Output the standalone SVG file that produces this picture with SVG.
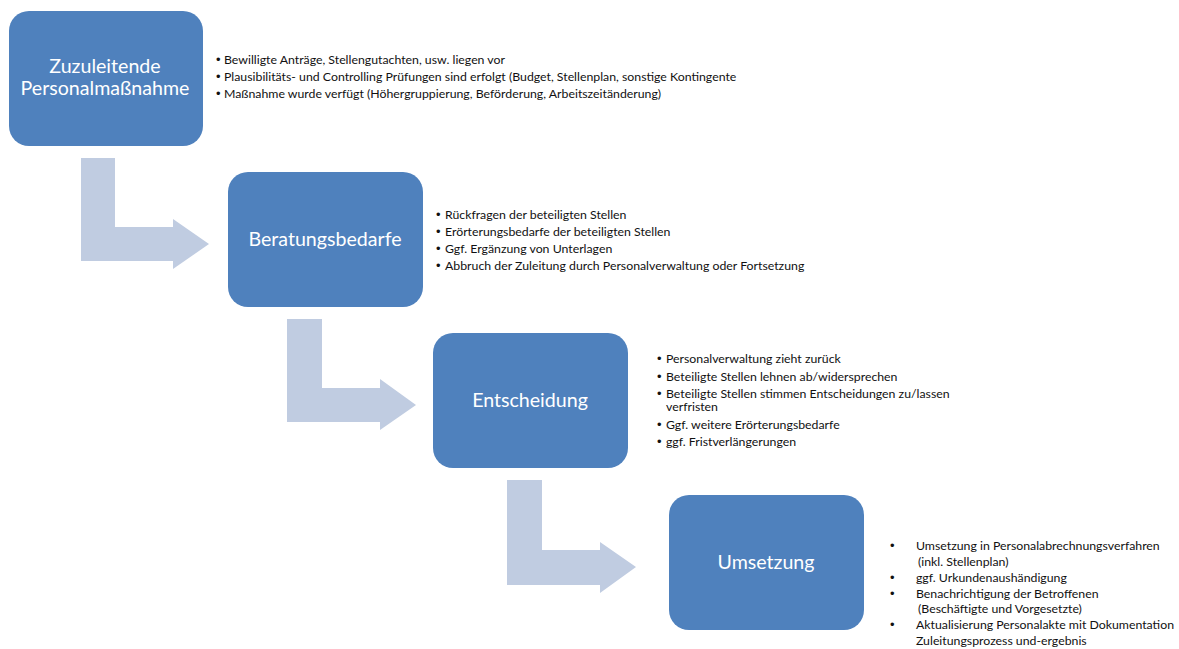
<svg xmlns="http://www.w3.org/2000/svg" width="1179" height="649" viewBox="0 0 1179 649">
  <style>
    .box { fill: #4F81BD; }
    .flow { fill: #C0CCE1; }
    .title { font-family: Lato, "Open Sans", "Liberation Sans", sans-serif; font-size: 19.6px; fill: #FFFFFF; text-anchor: middle; }
    .item { font-family: Lato, "Open Sans", "Liberation Sans", sans-serif; font-size: 12.3px; fill: #111111; }
    .dot { font-family: "Liberation Sans", sans-serif; font-size: 13px; fill: #111111; }
  </style>
  <rect width="1179" height="649" fill="#FFFFFF"/>

  <!-- bent arrows between the steps -->
  <g id="connectors">
    <polygon class="flow" points="81,158 115,158 115,227 173,227 173,219 209,244 173,269 173,261 81,261"/>
    <polygon class="flow" points="287,319 322,319 322,388 380,388 380,379 416,405 380,430 380,422 287,422"/>
    <polygon class="flow" points="507,480 542,480 542,550 600,550 600,542 636,567 600,593 600,585 507,585"/>
  </g>

  <g id="step1">
    <rect class="box" x="9" y="11" width="194" height="135" rx="20"/>
    <text class="title" x="105" y="73">Zuzuleitende</text>
    <text class="title" x="105" y="95">Personalmaßnahme</text>
  </g>
  <g id="step1-notes" class="item">
    <text class="dot" x="216" y="64">•</text><text x="224" y="64">Bewilligte Anträge, Stellengutachten, usw. liegen vor</text>
    <text class="dot" x="216" y="81">•</text><text x="224" y="81">Plausibilitäts- und Controlling Prüfungen sind erfolgt (Budget, Stellenplan, sonstige Kontingente</text>
    <text class="dot" x="216" y="98">•</text><text x="224" y="98">Maßnahme wurde verfügt (Höhergruppierung, Beförderung, Arbeitszeitänderung)</text>
  </g>

  <g id="step2">
    <rect class="box" x="228" y="172" width="195" height="135" rx="20"/>
    <text class="title" x="325" y="246">Beratungsbedarfe</text>
  </g>
  <g id="step2-notes" class="item">
    <text class="dot" x="436" y="219">•</text><text x="445" y="219">Rückfragen der beteiligten Stellen</text>
    <text class="dot" x="436" y="236">•</text><text x="445" y="236">Erörterungsbedarfe der beteiligten Stellen</text>
    <text class="dot" x="436" y="253">•</text><text x="445" y="253">Ggf. Ergänzung von Unterlagen</text>
    <text class="dot" x="436" y="270">•</text><text x="445" y="270">Abbruch der Zuleitung durch Personalverwaltung oder Fortsetzung</text>
  </g>

  <g id="step3">
    <rect class="box" x="433" y="333" width="195" height="135" rx="20"/>
    <text class="title" x="530" y="407">Entscheidung</text>
  </g>
  <g id="step3-notes" class="item">
    <text class="dot" x="657" y="363">•</text><text x="666" y="363">Personalverwaltung zieht zurück</text>
    <text class="dot" x="657" y="381">•</text><text x="666" y="381">Beteiligte Stellen lehnen ab/widersprechen</text>
    <text class="dot" x="657" y="398">•</text><text x="666" y="398">Beteiligte Stellen stimmen Entscheidungen zu/lassen</text>
    <text x="666" y="411">verfristen</text>
    <text class="dot" x="657" y="429">•</text><text x="666" y="429">Ggf. weitere Erörterungsbedarfe</text>
    <text class="dot" x="657" y="446">•</text><text x="666" y="446">ggf. Fristverlängerungen</text>
  </g>

  <g id="step4">
    <rect class="box" x="669" y="495" width="195" height="135" rx="20"/>
    <text class="title" x="766" y="569">Umsetzung</text>
  </g>
  <g id="step4-notes" class="item">
    <text class="dot" x="890" y="550">•</text><text x="916" y="550">Umsetzung in Personalabrechnungsverfahren</text>
    <text x="918" y="566">(inkl. Stellenplan)</text>
    <text class="dot" x="890" y="582">•</text><text x="916" y="582">ggf. Urkundenaushändigung</text>
    <text class="dot" x="890" y="598">•</text><text x="916" y="598">Benachrichtigung der Betroffenen</text>
    <text x="918" y="613">(Beschäftigte und Vorgesetzte)</text>
    <text class="dot" x="890" y="629">•</text><text x="916" y="629">Aktualisierung Personalakte mit Dokumentation</text>
    <text x="916" y="645">Zuleitungsprozess und-ergebnis</text>
  </g>
</svg>
